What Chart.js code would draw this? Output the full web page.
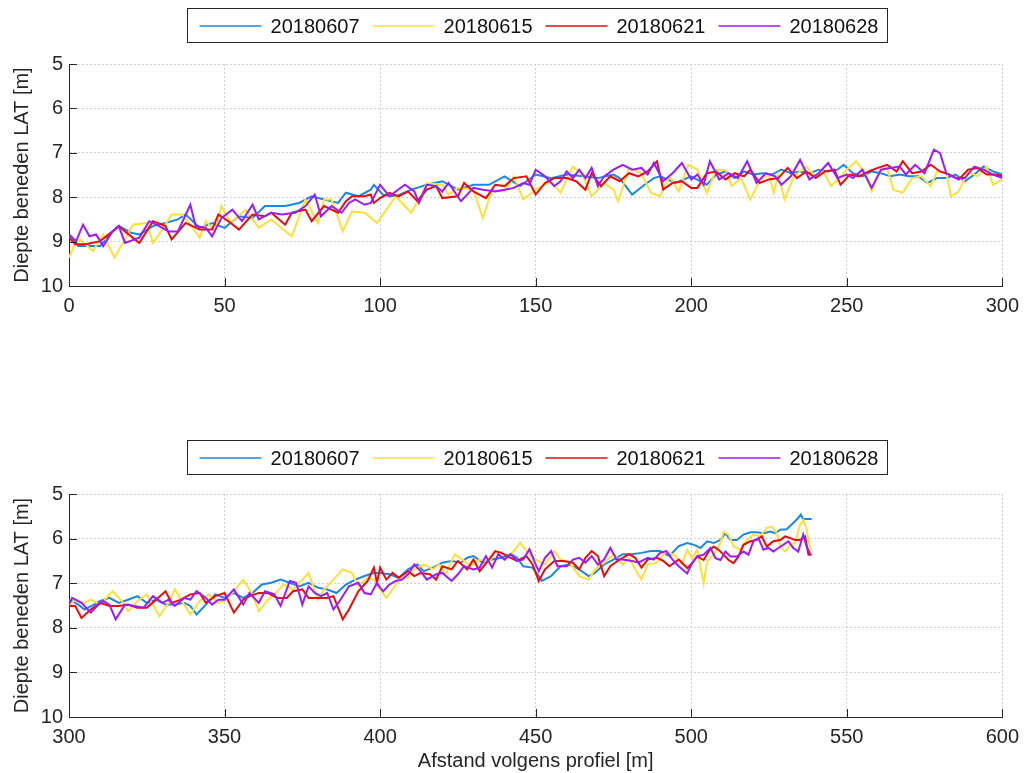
<!DOCTYPE html>
<html><head><meta charset="utf-8">
<script src="https://cdn.jsdelivr.net/npm/chart.js@4/dist/chart.umd.min.js"></script>
<style>
html,body{margin:0;padding:0;background:#fff;width:1027px;height:773px;overflow:hidden}
.p{position:absolute;left:0;width:1027px}
#w1{top:0;height:386px}#w2{top:386px;height:387px}
</style></head>
<body>
<div class="p" id="w1"><canvas id="c1" width="1027" height="386"></canvas></div>
<div class="p" id="w2"><canvas id="c2" width="1027" height="387"></canvas></div>
<script>
const seriesNames = ['20180607','20180615','20180621','20180628'];
const seriesColors = ['#1a88e3','#ffdf3a','#ee0a0a','#9a1cff'];
const yTicks = [5,6,7,8,9,10];
const xTicksTop = [0,50,100,150,200,250,300];
const xTicksBottom = [300,350,400,450,500,550,600];
const yTitle = 'Diepte beneden LAT [m]';
const xTitle = 'Afstand volgens profiel [m]';

// [afstand (m), diepte (m)] - top panel
const top607 = [[0,8.84],[3,9.10],[8,9.10],[10,9.10],[14,8.77],[16,8.65],[20,8.80],[22.6,8.84],[27,8.65],[31,8.58],[35,8.50],[37.5,8.39],[42,8.69],[46,8.58],[50,8.69],[54.6,8.43],[59,8.47],[63,8.20],[65,8.20],[69.5,8.20],[74,8.13],[78,7.98],[82,8.05],[86.5,8.13],[89,7.90],[93,7.98],[97,7.83],[98,7.72],[101,7.95],[105,7.98],[110,7.83],[115,7.72],[120,7.64],[125,7.83],[130,7.72],[135,7.72],[140,7.53],[145,7.75],[150,7.49],[155,7.57],[160,7.49],[165,7.53],[170,7.57],[175,7.49],[177,7.57],[181,7.94],[185,7.72],[188,7.57],[190,7.53],[195,7.68],[200,7.53],[205,7.72],[208,7.49],[211,7.42],[214,7.57],[217,7.42],[220,7.49],[223,7.46],[226,7.49],[229,7.38],[232,7.46],[235,7.42],[238,7.46],[241,7.38],[244,7.42],[247,7.38],[249,7.27],[252,7.46],[255,7.53],[258,7.42],[261,7.46],[264,7.53],[267,7.49],[270,7.53],[273,7.53],[276,7.68],[279,7.57],[282,7.57],[285,7.49],[288,7.64],[291,7.49],[294,7.31],[297,7.42],[300,7.49]];
const top615 = [[0,9.36],[2,9.03],[3.4,8.95],[7.7,9.21],[11,8.84],[14.6,9.36],[18,8.95],[20.5,8.62],[25,8.58],[27,9.03],[30,8.73],[33,8.39],[36.5,8.39],[42,8.91],[44,8.54],[47,8.77],[49,8.20],[52,8.58],[56.7,8.28],[61,8.69],[65,8.50],[71.6,8.88],[76,8.05],[80,8.58],[82,8.05],[84.4,8.05],[88,8.77],[91,8.32],[95,8.35],[99,8.58],[102,8.28],[105,7.98],[110,8.35],[113,7.98],[115,7.68],[120,7.72],[122,7.94],[125,7.79],[130,7.83],[133,8.47],[136,7.83],[140,7.87],[143,7.53],[146,8.05],[150,7.83],[155,7.64],[158,7.90],[162,7.31],[165,7.49],[168,7.98],[172,7.68],[175,7.83],[176.5,8.09],[180,7.34],[184,7.46],[187,7.90],[190,7.98],[193,7.53],[196,7.87],[199,7.27],[202,7.38],[205,7.90],[208,7.38],[211,7.38],[213,7.75],[216,7.57],[219,8.05],[222,7.64],[225,7.49],[226.5,7.90],[228,7.49],[230,8.05],[233,7.53],[237,7.31],[240,7.53],[242,7.38],[245,7.75],[248,7.53],[250,7.38],[253,7.19],[256,7.46],[258,7.87],[261,7.38],[263,7.34],[265,7.83],[268,7.90],[271,7.57],[274,7.53],[277,7.75],[279,7.42],[282,7.46],[283.5,7.98],[286,7.87],[289,7.42],[292,7.53],[295,7.31],[297,7.72],[300,7.60]];
const top621 = [[0,8.91],[2,9.06],[5.5,9.06],[10,8.99],[14,8.77],[16,8.65],[18,8.77],[22.6,9.03],[27,8.54],[31,8.65],[33,8.95],[37.5,8.58],[42,8.73],[46,8.73],[48,8.39],[52,8.58],[54.6,8.73],[59,8.39],[63,8.43],[65,8.35],[69.5,8.62],[71.6,8.35],[76,8.28],[78,8.54],[82,8.20],[86.5,8.35],[89,8.09],[91,7.98],[95,7.98],[97,7.94],[98,8.13],[100,8.02],[103,7.90],[106,7.98],[109,7.87],[112,8.09],[115,7.83],[118,7.75],[120,8.02],[125,7.98],[127,7.68],[130,7.87],[134,8.02],[137,7.72],[140,7.75],[143,7.57],[147,7.53],[150,7.94],[153,7.68],[156,7.57],[160,7.57],[163,7.64],[166,7.83],[168,7.46],[171,7.75],[174,7.53],[177,7.64],[180,7.46],[183,7.53],[186,7.42],[189,7.19],[191,7.83],[194,7.68],[197,7.64],[200,7.79],[202,7.79],[205,7.46],[208,7.42],[211,7.60],[214,7.46],[217,7.53],[219,7.38],[222,7.68],[225,7.60],[228,7.57],[231,7.34],[234,7.57],[237,7.42],[240,7.57],[243,7.42],[246,7.38],[248,7.72],[251,7.49],[254,7.53],[257,7.42],[260,7.34],[263,7.27],[266,7.42],[268,7.19],[271,7.46],[274,7.42],[277,7.27],[280,7.42],[283,7.49],[286,7.60],[289,7.38],[292,7.34],[295,7.49],[298,7.49],[300,7.53]];
const top628 = [[0,8.84],[2.3,8.99],[4.5,8.62],[6.6,8.88],[8.7,8.84],[11,9.10],[14,8.77],[16,8.65],[18,9.03],[22.6,8.91],[25.8,8.54],[29,8.65],[32,8.77],[35,8.77],[39,8.17],[40.7,8.65],[44,8.69],[46,8.88],[49,8.47],[52.5,8.28],[55.6,8.54],[59,8.17],[61,8.50],[65,8.35],[68.4,8.39],[72.7,8.35],[76,8.20],[79,7.94],[81,8.43],[84.4,8.20],[87.6,8.35],[90,8.13],[92,8.05],[95,8.17],[97,8.13],[100,7.72],[103,7.98],[105,7.87],[108,7.72],[111,7.87],[112.5,8.13],[115,7.72],[118,7.75],[120,7.87],[122,7.68],[126,8.09],[130,7.79],[133,7.83],[137,7.87],[140,7.83],[143,7.79],[146,7.68],[148,7.72],[150,7.38],[153,7.53],[156,7.75],[158,7.64],[160,7.42],[162,7.57],[164,7.38],[166,7.57],[168,7.34],[170,7.75],[172,7.53],[175,7.38],[178,7.27],[181,7.38],[184,7.34],[186,7.49],[188,7.23],[191,7.64],[194,7.46],[197,7.23],[200,7.60],[202,7.49],[204,7.72],[206,7.19],[209,7.60],[212,7.46],[215,7.57],[218,7.19],[221,7.68],[224,7.46],[227,7.53],[229,7.72],[232,7.53],[235,7.16],[238,7.60],[241,7.46],[244,7.23],[247,7.57],[250,7.49],[252,7.57],[255,7.38],[258,7.79],[261,7.38],[264,7.34],[267,7.31],[269,7.49],[272,7.27],[275,7.46],[278,6.93],[280,7.01],[282,7.46],[285,7.57],[288,7.57],[291,7.31],[294,7.38],[297,7.49],[300,7.57]];

// bottom panel
const bot607 = [[300,7.37],[303,7.48],[305,7.59],[308,7.48],[310,7.40],[313,7.33],[316,7.44],[319,7.37],[322,7.29],[325,7.44],[328,7.37],[331,7.48],[334,7.48],[337,7.44],[339,7.51],[341,7.70],[344,7.48],[347,7.25],[350,7.33],[353,7.22],[356,7.33],[359,7.22],[362,7.03],[365,6.99],[368,6.92],[371,6.99],[374,7.07],[377,6.99],[380,7.10],[383,7.14],[386,7.22],[389,7.03],[392,6.92],[395,6.84],[398,6.77],[400,6.77],[403,6.80],[406,6.88],[409,6.69],[412,6.58],[414,6.73],[417,6.65],[420,6.54],[423,6.50],[426,6.54],[428,6.43],[430,6.39],[433,6.54],[436,6.47],[439,6.43],[442,6.35],[444,6.43],[446,6.62],[449,6.65],[451,6.84],[452,6.95],[455,6.84],[458,6.62],[461,6.58],[464,6.69],[467,6.84],[469,6.77],[472,6.58],[475,6.47],[478,6.35],[481,6.35],[484,6.32],[487,6.28],[490,6.28],[493,6.39],[496,6.17],[498.7,6.10],[500.9,6.14],[503,6.21],[505.1,6.06],[507.2,6.10],[509.4,6.03],[511,5.88],[512.6,6.03],[514.7,6.03],[516.8,5.91],[519,5.86],[521.1,5.86],[523.2,5.88],[525.4,5.84],[527,5.88],[528.6,5.80],[530.7,5.79],[532.8,5.65],[534.4,5.54],[535.2,5.46],[536,5.56],[538.7,5.56]];
const bot615 = [[300,7.51],[302,7.37],[305,7.44],[307,7.37],[310,7.48],[314,7.18],[317,7.40],[319,7.63],[322,7.40],[325,7.25],[327,7.48],[329,7.74],[332,7.44],[334,7.14],[337,7.48],[339,7.70],[342,7.40],[345,7.25],[348,7.44],[350,7.40],[353,7.18],[356,6.92],[359,7.25],[361,7.63],[364,7.37],[366,7.25],[369,7.03],[372,7.14],[375,6.92],[377,6.77],[380,7.37],[382,7.14],[385,6.92],[388,6.69],[391,6.77],[393,7.07],[396,6.88],[398,6.92],[400,7.14],[402,7.33],[404,7.14],[406,6.92],[409,6.88],[411,6.69],[414,6.58],[417,6.69],[419,6.58],[421,6.80],[424,6.35],[427,6.50],[429,6.62],[432,6.47],[435,6.54],[437,6.28],[440,6.47],[443,6.28],[445,6.09],[447,6.28],[450,6.47],[453,6.58],[456,6.28],[458,6.47],[461,6.54],[464,6.84],[467,6.92],[469,6.69],[472,6.54],[475,6.35],[478,6.58],[480,6.43],[482,6.69],[484,6.92],[486,6.58],[489,6.54],[492,6.28],[495,6.39],[497,6.58],[498.7,6.25],[500.3,6.44],[501.9,6.25],[504,7.00],[505.1,6.51],[507.2,6.36],[509.4,6.10],[510.4,5.84],[512,5.91],[513.6,6.18],[515.8,6.25],[517.9,6.03],[520,5.91],[522.1,5.95],[524.3,5.76],[525.9,5.73],[527.5,5.88],[528.6,6.18],[530.2,6.29],[531.8,6.14],[533.4,6.10],[535,5.69],[536.1,5.58],[537.1,5.80],[538.2,6.21],[538.7,6.29]];
const bot621 = [[300,7.51],[302,7.51],[304,7.78],[307,7.59],[310,7.44],[313,7.51],[316,7.51],[319,7.48],[322,7.55],[325,7.55],[328,7.37],[331,7.18],[333,7.44],[336,7.37],[339,7.25],[342,7.22],[344,7.44],[347,7.29],[350,7.22],[353,7.66],[356,7.37],[358,7.29],[361,7.22],[364,7.22],[367,7.33],[370,7.33],[372,7.18],[375,7.14],[377,7.33],[380,7.33],[383,7.33],[385,7.29],[388,7.81],[390,7.59],[393,7.18],[396,6.95],[398,6.65],[399,6.99],[400,6.65],[402,6.92],[404,6.77],[406,6.88],[409,6.73],[411,6.84],[413,6.77],[416,6.80],[418,6.92],[420,6.62],[423,6.69],[425,6.50],[428,6.69],[430,6.47],[432,6.73],[435,6.47],[437,6.28],[439,6.32],[442,6.43],[444,6.50],[447,6.39],[449,6.58],[451,6.95],[453,6.69],[456,6.50],[459,6.50],[462,6.54],[464,6.69],[466,6.43],[468,6.28],[470,6.39],[472,6.84],[474,6.62],[477,6.47],[480,6.35],[482,6.43],[484,6.65],[486,6.47],[489,6.43],[491,6.50],[493,6.62],[496,6.47],[498.7,6.66],[500.3,6.55],[501.9,6.40],[504,6.48],[505.6,6.29],[507.2,6.18],[508.8,6.25],[510.4,6.36],[512,6.48],[513.6,6.55],[515.2,6.40],[516.8,6.14],[519,6.06],[521.1,6.03],[522.7,5.95],[524.3,6.18],[526.4,6.06],[528.6,6.03],[530.2,5.95],[531.8,5.99],[533.4,6.03],[535,6.03],[536.6,5.95],[537.7,6.36],[538.7,6.36]];
const bot628 = [[300,7.48],[301,7.33],[304,7.44],[307,7.66],[309,7.51],[311,7.40],[313,7.48],[315,7.81],[318,7.48],[321,7.51],[324,7.55],[327,7.29],[330,7.44],[332,7.37],[334,7.51],[337,7.33],[339,7.37],[341,7.18],[344,7.33],[346,7.48],[348,7.37],[350,7.37],[353,7.14],[356,7.48],[358,7.22],[361,7.44],[363,7.18],[366,7.25],[368,7.51],[371,6.95],[373,6.99],[375,7.48],[377,7.07],[379,7.22],[381,7.29],[383,7.22],[385,7.59],[387,7.40],[390,7.07],[393,6.99],[395,7.22],[397,7.25],[399,6.99],[400,7.10],[401,7.18],[403,7.03],[405,6.95],[407,6.92],[409,6.80],[411,6.58],[413,6.73],[415,6.92],[418,6.80],[420,6.77],[423,6.95],[425,6.80],[427,6.62],[430,6.69],[432,6.65],[434,6.39],[436,6.65],[438,6.35],[440,6.47],[442,6.35],[444,6.50],[446,6.47],[448,6.24],[450,6.58],[451,6.73],[453,6.43],[455,6.28],[457,6.62],[460,6.62],[462,6.47],[464,6.43],[466,6.54],[468,6.39],[470,6.58],[472,6.47],[474,6.21],[476,6.47],[478,6.47],[481,6.50],[483,6.54],[486,6.43],[488,6.47],[490,6.32],[492,6.28],[494,6.47],[496,6.62],[498.7,6.78],[500.3,6.55],[501.9,6.40],[504,6.36],[506.2,6.21],[507.8,6.44],[509.4,6.48],[511,6.29],[512.6,6.40],[514.7,6.40],[516.8,6.29],[518.4,6.36],[520,6.06],[521.6,5.99],[523.2,6.25],[524.8,6.21],[526.4,6.29],[528,6.21],[529.6,6.14],[531.2,6.06],[532.8,6.21],[534.4,6.29],[536,5.91],[537.1,6.18],[538.4,6.36]];

const FONT = "'Liberation Sans', Arial, sans-serif";
const TXT = '#262626';
const FS = 20;
Chart.defaults.font.family = FONT;
Chart.defaults.font.size = FS;
Chart.defaults.color = TXT;

const innerTicks = {
  id: 'innerTicks',
  afterDraw(chart) {
    const {ctx, chartArea: a, scales: {x, y}} = chart;
    ctx.save();
    ctx.strokeStyle = TXT; ctx.lineWidth = 1;
    ctx.beginPath();
    x.ticks.forEach(t => { const px = Math.round(x.getPixelForValue(t.value)) + 0.5; ctx.moveTo(px, a.bottom); ctx.lineTo(px, a.bottom - 8); });
    y.ticks.forEach(t => { const py = Math.round(y.getPixelForValue(t.value)) + 0.5; ctx.moveTo(a.left, py); ctx.lineTo(a.left + 8, py); });
    ctx.stroke();
    ctx.restore();
  }
};

const boxLegend = {
  id: 'boxLegend',
  afterDraw(chart, args, opts) {
    const ctx = chart.ctx;
    const bx = 187, bw = 700, by = opts.top, bh = 34;
    ctx.save();
    ctx.fillStyle = '#fff';
    ctx.fillRect(bx, by, bw, bh);
    ctx.strokeStyle = TXT; ctx.lineWidth = 1;
    ctx.strokeRect(bx + 0.5, by + 0.5, bw, bh);
    ctx.font = FS + 'px ' + FONT;
    ctx.textBaseline = 'middle';
    const lineLen = 62, gap = 9, after = 13;
    const items = chart.data.datasets.map(d => ({label: d.label, color: d.borderColor, w: ctx.measureText(d.label).width}));
    const total = items.reduce((s, it) => s + lineLen + gap + it.w, 0) + after * (items.length - 1);
    let cx = bx + (bw - total) / 2 + 2;
    const cy = by + bh / 2 + 1;
    items.forEach(it => {
      ctx.strokeStyle = it.color; ctx.lineWidth = 1.6;
      ctx.beginPath(); ctx.moveTo(cx, cy); ctx.lineTo(cx + lineLen, cy); ctx.stroke();
      ctx.fillStyle = '#111';
      ctx.fillText(it.label, cx + lineLen + gap, cy + 1);
      cx += lineLen + gap + it.w + after;
    });
    ctx.restore();
  }
};

function makePanel(id, xmin, xmax, xTicks, series, opts) {
  const datasets = series.map((s, i) => ({
    label: seriesNames[i],
    data: s.map(p => ({x: p[0], y: p[1]})),
    borderColor: seriesColors[i],
    backgroundColor: seriesColors[i],
    borderWidth: 2,
    pointRadius: 0,
    tension: 0,
    order: series.length - i
  }));
  return new Chart(document.getElementById(id), {
    type: 'line',
    data: {datasets},
    options: {
      responsive: false,
      animation: false,
      events: [],
      layout: {padding: {top: opts.chartTop, left: 0, right: 20, bottom: 0}},
      plugins: {legend: {display: false}, tooltip: {enabled: false}, boxLegend: {top: opts.legendTop}},
      scales: {
        x: {
          type: 'linear', min: xmin, max: xmax,
          afterBuildTicks: s => { s.ticks = xTicks.map(v => ({value: v})); },
          afterFit: s => { s.height = opts.canvasH - opts.chartBottom; },
          grid: {color: '#cfcfcf', lineWidth: 1, drawTicks: false},
          border: {display: true, color: TXT, width: 1, dash: [2, 2]},
          ticks: {padding: 8, maxRotation: 0, autoSkip: false, color: TXT, font: {size: FS}},
          title: {display: opts.showXTitle, text: xTitle, color: TXT, font: {size: FS}, padding: {top: 0, bottom: 0}}
        },
        y: {
          type: 'linear', min: 5, max: 10, reverse: true,
          afterBuildTicks: s => { s.ticks = yTicks.map(v => ({value: v})); },
          afterFit: s => { s.width = 69; },
          grid: {color: '#cfcfcf', lineWidth: 1, drawTicks: false},
          border: {display: true, color: TXT, width: 1, dash: [2, 2]},
          ticks: {padding: 6, color: TXT, font: {size: FS}},
          title: {display: true, text: yTitle, color: TXT, font: {size: FS}, padding: {top: 10, bottom: 0}}
        }
      }
    },
    plugins: [innerTicks, boxLegend]
  });
}

makePanel('c1', 0, 300, xTicksTop, [top607, top615, top621, top628], {chartTop: 64, chartBottom: 286, canvasH: 386, legendTop: 8, showXTitle: false});
makePanel('c2', 300, 600, xTicksBottom, [bot607, bot615, bot621, bot628], {chartTop: 108, chartBottom: 331, canvasH: 387, legendTop: 54, showXTitle: true});
</script>
</body></html>
